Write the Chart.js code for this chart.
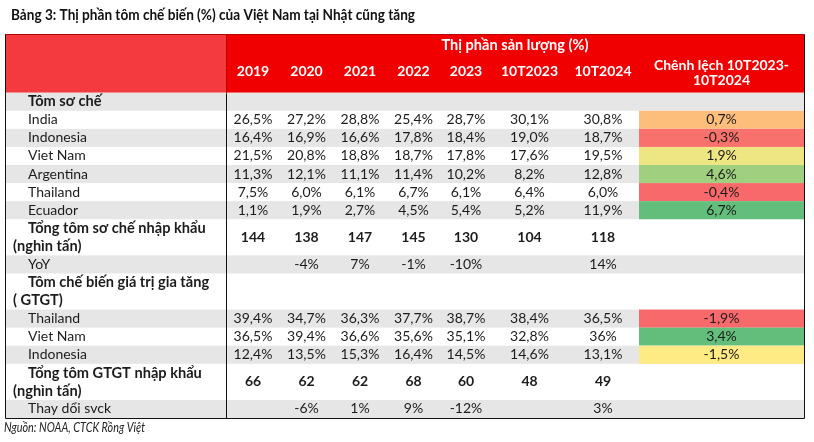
<!DOCTYPE html>
<html>
<head>
<meta charset="utf-8">
<script src="https://cdn.jsdelivr.net/npm/chart.js@4.4.1/dist/chart.umd.min.js"></script>
<style>
html, body { margin: 0; padding: 0; background: #fff; }
#wrap { position: relative; width: 814px; height: 442px; }
</style>
</head>
<body>
<div id="wrap"><canvas id="chart"></canvas></div>
<script>
// texts
var tableTitle = 'Bảng 3: Thị phần tôm chế biến (%) của Việt Nam tại Nhật cũng tăng';
var sourceNote = 'Nguồn: NOAA, CTCK Rồng Việt';
var shareHeader = 'Thị phần sản lượng (%)';
var changeHeader = ['Chênh lệch 10T2023-', '10T2024'];
var periods = ['2019', '2020', '2021', '2022', '2023', '10T2023', '10T2024'];

// processed shrimp (Tôm sơ chế)
var rawTitle = ['Tôm sơ chế'];
var rawCountries = ['India', 'Indonesia', 'Viet Nam', 'Argentina', 'Thailand', 'Ecuador'];
var rawShares = [
	[26.5, 27.2, 28.8, 25.4, 28.7, 30.1, 30.8],
	[16.4, 16.9, 16.6, 17.8, 18.4, 19.0, 18.7],
	[21.5, 20.8, 18.8, 18.7, 17.8, 17.6, 19.5],
	[11.3, 12.1, 11.1, 11.4, 10.2, 8.2, 12.8],
	[7.5, 6.0, 6.1, 6.7, 6.1, 6.4, 6.0],
	[1.1, 1.9, 2.7, 4.5, 5.4, 5.2, 11.9]
];
var rawChange = [0.7, -0.3, 1.9, 4.6, -0.4, 6.7];
var rawTotalLabel = ['Tổng tôm sơ chế nhập khẩu', '(nghìn tấn)'];
var rawTotal = [144, 138, 147, 145, 130, 104, 118];
var rawGrowthLabel = ['YoY'];
var rawGrowth = [null, -4, 7, -1, -10, null, 14];

// value added shrimp (GTGT)
var vaTitle = ['Tôm chế biến giá trị gia tăng', '( GTGT)'];
var vaCountries = ['Thailand', 'Viet Nam', 'Indonesia'];
var vaShares = [
	[39.4, 34.7, 36.3, 37.7, 38.7, 38.4, 36.5],
	[36.5, 39.4, 36.6, 35.6, 35.1, 32.8, 36],
	[12.4, 13.5, 15.3, 16.4, 14.5, 14.6, 13.1]
];
var vaWholeCells = [[1, 6]]; // shown without decimals in the source
var vaChange = [-1.9, 3.4, -1.5];
var vaTotalLabel = ['Tổng tôm GTGT nhập khẩu', '(nghìn tấn)'];
var vaTotal = [66, 62, 62, 68, 60, 48, 49];
var vaGrowthLabel = ['Thay dổi svck'];
var vaGrowth = [null, -6, 1, 9, -12, null, 3];

// layout (x in px-like units from the left border, y in row units)
var COL_EDGES = [0, 221, 275, 328, 382, 435, 487, 562, 634, 799];
var HEAD = 3.25;
var FONT = 'Lato, "Open Sans", sans-serif';
var INK = '#1c1c1c';

function pct(v, whole) {
	if (v == null) return '';
	return (whole ? String(v) : v.toFixed(1).replace('.', ',')) + '%';
}

// Excel style 3 colour scale: min red, median yellow, max green
function scaleColor(v, vals) {
	var s = vals.slice().sort(function (a, b) { return a - b; });
	var n = s.length, min = s[0], max = s[n - 1];
	var pos = (n - 1) * 0.5, lo = Math.floor(pos);
	var mid = s[lo] + (s[Math.min(lo + 1, n - 1)] - s[lo]) * (pos - lo);
	var red = [248, 105, 107], yel = [255, 235, 132], grn = [99, 190, 123];
	var a, b, t;
	if (v <= mid) { a = red; b = yel; t = mid == min ? 1 : (v - min) / (mid - min); }
	else { a = yel; b = grn; t = max == mid ? 1 : (v - mid) / (max - mid); }
	var c = a.map(function (x, i) { return Math.round(x + (b[i] - x) * t); });
	return 'rgb(' + c.join(',') + ')';
}

// build the row list
var rows = [];
function addGroup(titleLines, countries, shares, change, totalLabel, total, growthLabel, growth, whole) {
	rows.push({ label: titleLines, bold: true, cells: [] });
	countries.forEach(function (name, r) {
		rows.push({
			label: [name],
			cells: shares[r].map(function (v, c) {
				var w = (whole || []).some(function (p) { return p[0] == r && p[1] == c; });
				return pct(v, w);
			}),
			change: change[r],
			changeSet: change
		});
	});
	rows.push({ label: totalLabel, bold: true, boldCells: true, cells: total.map(String) });
	rows.push({ label: growthLabel, cells: growth.map(function (v) { return v == null ? '' : v + '%'; }) });
}
addGroup(rawTitle, rawCountries, rawShares, rawChange, rawTotalLabel, rawTotal, rawGrowthLabel, rawGrowth);
addGroup(vaTitle, vaCountries, vaShares, vaChange, vaTotalLabel, vaTotal, vaGrowthLabel, vaGrowth, vaWholeCells);
var bodyUnits = 0;
rows.forEach(function (r) { r.top = bodyUnits; bodyUnits += r.label.length; });

function text(ctx, s, px, py, font, color, align, maxW) {
	ctx.font = font;
	ctx.fillStyle = color;
	ctx.textAlign = align;
	ctx.textBaseline = 'middle';
	if (maxW) ctx.fillText(s, px, py, maxW);
	else ctx.fillText(s, px, py);
}

var tablePlugin = {
	id: 'shrimpTable',
	afterDraw: function (chart) {
		var ctx = chart.ctx;
		var xs = chart.scales.x, ys = chart.scales.y;
		var X = function (v) { return xs.getPixelForValue(v); };
		var Y = function (v) { return ys.getPixelForValue(v); };
		var L = COL_EDGES.length - 1;
		var mid = function (c) { return X((COL_EDGES[c] + COL_EDGES[c + 1]) / 2); };
		ctx.save();

		// title and source
		text(ctx, tableTitle, 11, 15, 'bold 16px ' + FONT, '#111', 'left', 404);
		text(ctx, sourceNote, 4, 428, 'italic 13px ' + FONT, '#222', 'left', 141);

		// header fills
		ctx.fillStyle = '#f4393f';
		ctx.fillRect(X(0), Y(-HEAD), X(COL_EDGES[1]) - X(0), Y(0) - Y(-HEAD));
		ctx.fillStyle = '#f00000';
		ctx.fillRect(X(COL_EDGES[1]), Y(-HEAD), X(COL_EDGES[L]) - X(COL_EDGES[1]), Y(0) - Y(-HEAD));

		// row bands and change cells
		rows.forEach(function (r, i) {
			var y0 = Y(r.top), y1 = Y(r.top + r.label.length);
			if (i % 2 == 0) {
				ctx.fillStyle = '#e6e6e6';
				ctx.fillRect(X(0), y0, X(COL_EDGES[L]) - X(0), y1 - y0);
			}
			if (r.change != null) {
				ctx.fillStyle = scaleColor(r.change, r.changeSet);
				ctx.fillRect(X(COL_EDGES[L - 1]), y0, X(COL_EDGES[L]) - X(COL_EDGES[L - 1]), y1 - y0);
			}
		});

		// header text
		var hb = 'bold 14px ' + FONT;
		text(ctx, shareHeader, X((COL_EDGES[1] + COL_EDGES[L]) / 2), Y(-2.64), 'bold 14.6px ' + FONT, '#fff', 'center');
		periods.forEach(function (p, c) {
			text(ctx, p, mid(c + 1), Y(-1.15), hb, '#fff', 'center');
		});
		text(ctx, changeHeader[0], mid(L - 1), Y(-1.53), hb, '#fff', 'center');
		text(ctx, changeHeader[1], mid(L - 1), Y(-0.65), hb, '#fff', 'center');

		// body text
		rows.forEach(function (r) {
			var lf = r.bold ? 'bold 14.6px ' + FONT : '14px ' + FONT;
			r.label.forEach(function (s, k) {
				text(ctx, s, X(k == 0 ? 23 : 8), Y(r.top + k + 0.5), lf, INK, 'left');
			});
			var cy = Y(r.top + r.label.length / 2);
			var cf = (r.boldCells ? 'bold ' : '') + '14px ' + FONT;
			r.cells.forEach(function (s, c) {
				text(ctx, s, mid(c + 1), cy, cf, INK, 'center');
			});
			if (r.change != null) text(ctx, pct(r.change), mid(L - 1), cy, '14px ' + FONT, INK, 'center');
		});

		// rules
		var px = function (v) { return Math.round(v) + 0.5; };
		ctx.lineWidth = 1;
		ctx.strokeStyle = '#b80000';
		ctx.beginPath();
		ctx.moveTo(px(X(0)), px(Y(-HEAD)));
		ctx.lineTo(px(X(COL_EDGES[L])), px(Y(-HEAD)));
		ctx.moveTo(px(X(COL_EDGES[1])), px(Y(-HEAD)));
		ctx.lineTo(px(X(COL_EDGES[1])), px(Y(0)));
		ctx.stroke();
		ctx.strokeStyle = '#111';
		ctx.beginPath();
		ctx.moveTo(px(X(0)), px(Y(-HEAD)));
		ctx.lineTo(px(X(0)), px(Y(bodyUnits)));
		ctx.lineTo(px(X(COL_EDGES[L])), px(Y(bodyUnits)));
		ctx.lineTo(px(X(COL_EDGES[L])), px(Y(-HEAD)));
		ctx.moveTo(px(X(COL_EDGES[1])), px(Y(0)));
		ctx.lineTo(px(X(COL_EDGES[1])), px(Y(bodyUnits)));
		ctx.stroke();
		ctx.restore();
	}
};

new Chart(document.getElementById('chart'), {
	type: 'scatter',
	data: { datasets: [] },
	options: {
		responsive: true,
		maintainAspectRatio: false,
		animation: false,
		events: [],
		layout: { padding: { top: 34, left: 5, right: 10, bottom: 24 } },
		plugins: { legend: { display: false }, tooltip: { enabled: false } },
		scales: {
			x: { type: 'linear', display: false, min: 0, max: COL_EDGES[COL_EDGES.length - 1] },
			y: { type: 'linear', display: false, reverse: true, min: -HEAD, max: bodyUnits }
		}
	},
	plugins: [tablePlugin]
});
</script>
</body>
</html>
